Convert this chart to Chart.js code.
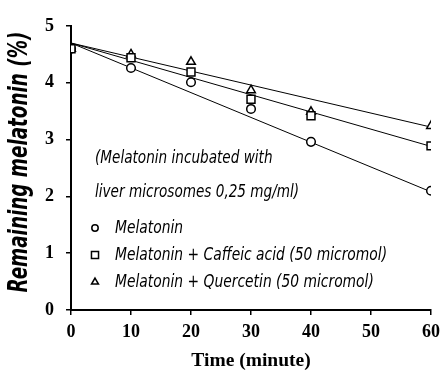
<!DOCTYPE html>
<html><head><meta charset="utf-8">
<script src="https://cdn.jsdelivr.net/npm/chart.js@4"></script>
<style>html,body{margin:0;padding:0;background:#fff}</style>
</head><body>
<canvas id="c" width="442" height="381"></canvas>
<script>
const times = [0, 10, 20, 30, 40, 60];
const melatonin = [4.60, 4.26, 4.01, 3.54, 2.96, 2.10];
const caffeic = [4.60, 4.44, 4.19, 3.71, 3.42, 2.89];
const quercetin = [4.60, 4.50, 4.37, 3.87, 3.49, 3.24];
const fitTimes = [0, 60];
const melatoninFit = [4.70, 2.08];
const caffeicFit = [4.70, 2.88];
const quercetinFit = [4.70, 3.22];
const xTicks = [0, 10, 20, 30, 40, 50, 60];
const yTicks = [0, 1, 2, 3, 4, 5];
const seriesNames = ['Melatonin', 'Melatonin + Caffeic acid (50 micromol)', 'Melatonin + Quercetin (50 micromol)'];
const noteLines = ['(Melatonin incubated with', 'liver microsomes 0,25 mg/ml)'];
const xTitle = 'Time (minute)';
const yTitle = 'Remaining melatonin (%)';

const toXY = (xs, ys) => xs.map((x, i) => ({x: x, y: ys[i]}));
const scriptFont = '"DejaVu Sans Condensed", "DejaVu Sans", sans-serif';

const pointDs = (label, data, style, radius) => ({
  label, data: toXY(times, data), showLine: false,
  pointStyle: style, pointRadius: radius, pointHoverRadius: radius,
  pointBackgroundColor: '#fff', pointBorderColor: '#000', pointBorderWidth: 1.5
});
const lineDs = (data) => ({
  data: toXY(fitTimes, data), showLine: true, pointRadius: 0,
  borderColor: '#000', borderWidth: 1, fill: false
});

const styles = ['circle', 'rect', 'triangle'];
const radii = [4.3, 5.6, 5];
const legendRadii = [3.2, 5, 4];

function scaledText(ctx, text, x, y, sx, sy, rot) {
  ctx.save();
  ctx.translate(x, y);
  if (rot) ctx.rotate(rot);
  ctx.scale(sx, sy);
  ctx.fillText(text, 0, 0);
  ctx.restore();
}

const annot = {
  id: 'annot',
  afterDatasetsDraw(chart) {
    const ctx = chart.ctx;
    const a = chart.chartArea;
    ctx.save();
    ctx.fillStyle = '#000';
    ctx.textBaseline = 'middle';
    ctx.textAlign = 'left';
    ctx.font = 'italic 14px ' + scriptFont;
    const nx = a.left + 24;
    scaledText(ctx, noteLines[0], nx, a.top + 132, 1.08, 1.3);
    scaledText(ctx, noteLines[1], nx, a.top + 166, 1.08, 1.3);
    const ly = [a.top + 202, a.top + 229, a.top + 256];
    seriesNames.forEach((name, i) => {
      ctx.strokeStyle = '#000';
      ctx.fillStyle = '#fff';
      ctx.lineWidth = 1.5;
      Chart.helpers.drawPoint(ctx, {pointStyle: styles[i], radius: legendRadii[i], borderWidth: 1.5}, a.left + 24, ly[i]);
      ctx.fillStyle = '#000';
      ctx.font = 'italic 14px ' + scriptFont;
      scaledText(ctx, name, a.left + 44, ly[i], 1.1, 1.3);
    });
    // y axis title
    ctx.textAlign = 'center';
    ctx.font = 'bold italic 20px ' + scriptFont;
    scaledText(ctx, yTitle, 20, (a.top + a.bottom) / 2 - 6, 1.02, 1.3, -Math.PI / 2);
    ctx.restore();
  }
};

new Chart(document.getElementById('c'), {
  type: 'scatter',
  data: {
    datasets: [
      pointDs(seriesNames[1], caffeic, styles[1], radii[1]),
      pointDs(seriesNames[0], melatonin, styles[0], radii[0]),
      pointDs(seriesNames[2], quercetin, styles[2], radii[2]),
      lineDs(melatoninFit), lineDs(caffeicFit), lineDs(quercetinFit)
    ]
  },
  options: {
    responsive: false, animation: false, devicePixelRatio: 1,
    layout: {padding: {top: 26, right: 11, left: 0, bottom: 8}},
    plugins: {legend: {display: false}, tooltip: {enabled: false}},
    scales: {
      x: {
        type: 'linear', min: 0, max: 60,
        afterBuildTicks: s => { s.ticks = xTicks.map(v => ({value: v})); },
        afterFit: s => { s.height = 63; s.paddingLeft = 0; s.paddingRight = 0; },
        border: {color: '#000', width: 2},
        grid: {drawOnChartArea: false, drawTicks: true, tickLength: 5, color: '#000', lineWidth: 1.5},
        ticks: {color: '#000', padding: 7, maxRotation: 0, font: {family: '"Liberation Serif", serif', weight: 'bold', size: 18}},
        title: {display: true, text: xTitle, color: '#000', padding: {top: 0, bottom: 0}, font: {family: '"Liberation Serif", serif', weight: 'bold', size: 19.5}}
      },
      y: {
        type: 'linear', min: 0, max: 5,
        afterBuildTicks: s => { s.ticks = yTicks.map(v => ({value: v})); },
        afterFit: s => { s.width = 71; s.paddingTop = 0; s.paddingBottom = 0; },
        border: {color: '#000', width: 2},
        grid: {drawOnChartArea: false, drawTicks: true, tickLength: 5, color: '#000', lineWidth: 1.5},
        ticks: {color: '#000', padding: 12, font: {family: '"Liberation Serif", serif', weight: 'bold', size: 18}},
        title: {display: false}
      }
    }
  },
  plugins: [annot]
});
</script>
</body></html>
